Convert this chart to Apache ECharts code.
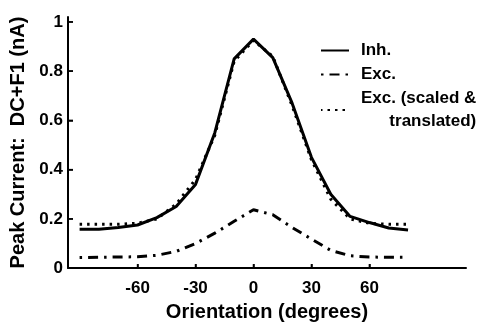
<!DOCTYPE html>
<html><head><meta charset="utf-8">
<script src="https://cdn.jsdelivr.net/npm/echarts@6/dist/echarts.min.js"></script>
<style>html,body{margin:0;padding:0;background:#fff}#c{width:487px;height:327px}</style>
</head><body><div id="c"></div>
<script>
const orientations = [-90,-80,-70,-60,-50,-40,-30,-20,-10,0,10,20,30,40,50,60,70,80];
const inh =       [0.158,0.158,0.165,0.175,0.205,0.25,0.34,0.55,0.85,0.93,0.855,0.67,0.45,0.30,0.21,0.185,0.163,0.155];
const exc =       [0.043,0.044,0.045,0.046,0.052,0.068,0.10,0.142,0.19,0.237,0.217,0.165,0.118,0.072,0.05,0.045,0.044,0.044];
const excScaled = [0.178,0.178,0.178,0.182,0.20,0.26,0.36,0.54,0.84,0.925,0.86,0.66,0.44,0.28,0.20,0.182,0.178,0.178];
const xTicks = [-60,-30,0,30,60];
const yTicks = [0,0.2,0.4,0.6,0.8,1];
const xRange = [-96,110];
const yRange = [0,1.02];

const pairs = a => orientations.map((x,i)=>[x,a[i]]);
const font = 'Liberation Sans, Arial, Helvetica, sans-serif';
const T = (size, extra) => Object.assign({fontFamily:font,fontWeight:'bold',fontSize:size,color:'#000'}, extra||{});
const chart = echarts.init(document.getElementById('c'));
chart.setOption({
  animation:false,
  grid:{left:68,right:21,top:17,bottom:53},
  legend:{
    orient:'vertical', left:315, top:37, itemWidth:28, itemHeight:18, itemGap:7,
    itemStyle:{opacity:0},
    textStyle:T(17,{padding:[0,0,0,7],
      rich:{a:T(17,{lineHeight:23}), b:T(17,{lineHeight:23,align:'right'})}}),
    formatter: n => n==='Exc. (scaled & translated)' ? '{a|Exc. (scaled &}\n{b|translated)}' : n,
    data:['Inh.','Exc.','Exc. (scaled & translated)']
  },
  xAxis:{type:'value',min:xRange[0],max:xRange[1],
    name:'Orientation (degrees)',nameLocation:'middle',nameGap:25,
    nameTextStyle:T(20),
    axisLine:{show:true,onZero:false,lineStyle:{color:'#000',width:2}},
    axisTick:{show:true,inside:true,length:4,customValues:xTicks,lineStyle:{color:'#000',width:1.5}},
    axisLabel:{show:true,customValues:xTicks,margin:12,...T(17)},
    splitLine:{show:false}},
  yAxis:{type:'value',min:yRange[0],max:yRange[1],
    name:'Peak Current:  DC+F1 (nA)',nameLocation:'middle',nameGap:35,nameRotate:90,
    nameTextStyle:T(20),
    axisLine:{show:true,onZero:false,lineStyle:{color:'#000',width:2}},
    axisTick:{show:true,inside:true,length:5,customValues:yTicks,lineStyle:{color:'#000',width:1.5}},
    axisLabel:{show:true,customValues:yTicks,margin:5,...T(17),
      formatter:v=>String(+(+v).toFixed(2))},
    splitLine:{show:false}},
  series:[
    {name:'Inh.',type:'line',data:pairs(inh),symbol:'none',lineStyle:{color:'#000',width:3},itemStyle:{color:'#000'}},
    {name:'Exc.',type:'line',data:pairs(exc),symbol:'none',lineStyle:{color:'#000',width:3,type:[10,6,2.5,6],dashOffset:16},itemStyle:{color:'#000'}},
    {name:'Exc. (scaled & translated)',type:'line',data:pairs(excScaled),symbol:'none',lineStyle:{color:'#000',width:3,type:[2.5,5]},itemStyle:{color:'#000'}}
  ]
});

// Axis lines and ticks as overlay, positioned through the chart's own scales
const P = (x,y) => chart.convertToPixel({gridIndex:0},[x,y]);
const o = P(xRange[0], yRange[0]);
const xe = P(xRange[1], yRange[0]);
const ye = P(xRange[0], yRange[1]);
const els = [
  {type:'line',z:100,shape:{x1:o[0],y1:o[1],x2:xe[0],y2:xe[1]},style:{stroke:'#000',lineWidth:2}},
  {type:'line',z:100,shape:{x1:o[0],y1:o[1],x2:ye[0],y2:ye[1]},style:{stroke:'#000',lineWidth:2}}
];
xTicks.forEach(v => { const p = P(v, yRange[0]);
  els.push({type:'line',z:100,shape:{x1:p[0],y1:p[1],x2:p[0],y2:p[1]-4},style:{stroke:'#000',lineWidth:1.5}}); });
yTicks.forEach(v => { const p = P(xRange[0], v);
  els.push({type:'line',z:100,shape:{x1:p[0],y1:p[1],x2:p[0]+5,y2:p[1]},style:{stroke:'#000',lineWidth:1.5}}); });
chart.setOption({graphic:{elements:els}});
</script></body></html>
